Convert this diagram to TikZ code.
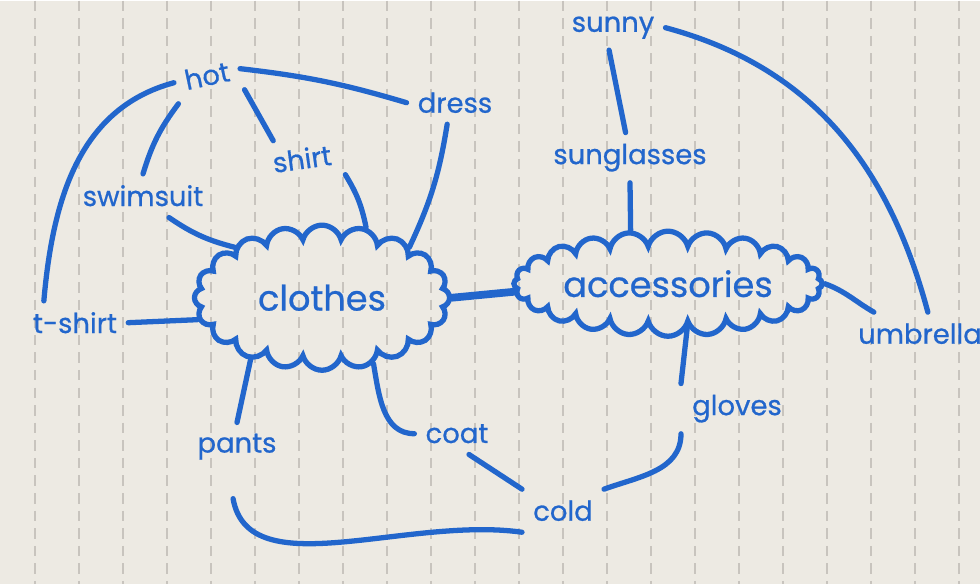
\documentclass[tikz,border=0pt]{standalone}
\usepackage{fontspec}
\setmainfont{Poppins}
\newfontfamily\inkfont{Poppins}[FakeBold=0.7]
\usetikzlibrary{shapes.symbols}
\definecolor{ink}{RGB}{34,102,204}
\definecolor{paper}{RGB}{237,234,227}
\definecolor{rulegray}{RGB}{200,196,190}
\tikzset{
  word/.style={text=ink, font=\inkfont\fontsize{7.8}{9}\selectfont, inner sep=3pt},
  bubble/.style={cloud, draw=ink, line width=1.5pt, cloud puffs=#1, cloud ignores aspect, inner sep=1pt, text=ink, font=\inkfont\fontsize{10}{12}\selectfont},
  link/.style={draw=ink, line width=1.5pt, line cap=round},
}
\begin{document}
\begin{tikzpicture}[x=0.01cm, y=0.01cm]
  % paper and its ruling
  \fill[paper] (0,0) rectangle (980,-583);
  \foreach \lx in {35,79,...,970}
    \draw[rulegray, dash pattern=on 3pt off 2pt, line width=0.4pt] (\lx,0) -- (\lx,-583);
  \useasboundingbox (0,0) rectangle (980,-583);

  % the two clouds
  \node[bubble=20, minimum width=2.55cm, minimum height=1.45cm] (clothes) at (322,-297) {clothes};
  \node[bubble=24, minimum width=3.0cm, minimum height=1.05cm] (accessories) at (668,-283) {accessories};

  % words
  \node[word, rotate=12] (hot) at (207,-75) {hot};
  \node[word] (dress) at (455,-102) {dress};
  \node[word, rotate=8] (shirt) at (302,-158) {shirt};
  \node[word] (swimsuit) at (143,-195) {swimsuit};
  \node[word] (tshirt) at (75,-322) {t-shirt};
  \node[word] (sunny) at (613,-27) {sunny};
  \node[word] (sunglasses) at (630,-157) {sunglasses};
  \node[word] (umbrella) at (920,-333) {umbrella};
  \node[word] (gloves) at (737,-408) {gloves};
  \node[word] (coat) at (457,-433) {coat};
  \node[word] (pants) at (237,-446) {pants};
  \node[word] (cold) at (563,-510) {cold};

  % hot side
  \draw[link] (hot.south west) to[bend right=10] (swimsuit.north);
  \draw[link] (hot.west) to[out=195, in=85] (tshirt.145);
  \draw[link] (hot.south east) -- (shirt.140);
  \draw[link] (hot.east) to[bend left=5] (dress.west);
  \draw[link] (shirt.south east) to[bend left=10] (clothes.58);
  \draw[link] (swimsuit.-40) to[bend right=10] (clothes.150);
  \draw[link] (dress.-110) to[bend left=8] (clothes.30);
  \draw[link] (tshirt.east) -- (clothes.190);
  \draw[link, line width=2.2pt] (clothes.east) -- (accessories.183);

  % accessories side
  \draw[link] (sunglasses.south) -- (accessories.125);
  \draw[link] (sunny.-100) -- (sunglasses.100);
  \draw[link] (sunny.east) to[out=-15, in=105] (umbrella.70);
  \draw[link] (accessories.east) to[out=-20, in=150] (umbrella.155);
  \draw[link] (accessories.293) -- (gloves.north west);

  % cold side
  \draw[link] (clothes.221) -- (pants.north);
  \draw[link] (clothes.308) to[out=-80, in=180] (coat.west);
  \draw[link] (coat.-60) -- (cold.north west);
  \draw[link] (gloves.south west) to[out=-90, in=20] (cold.north east);
  \draw[link, shorten <=8pt] (pants.-110) to[out=-80, in=172] (cold.south west);
\end{tikzpicture}
\end{document}
